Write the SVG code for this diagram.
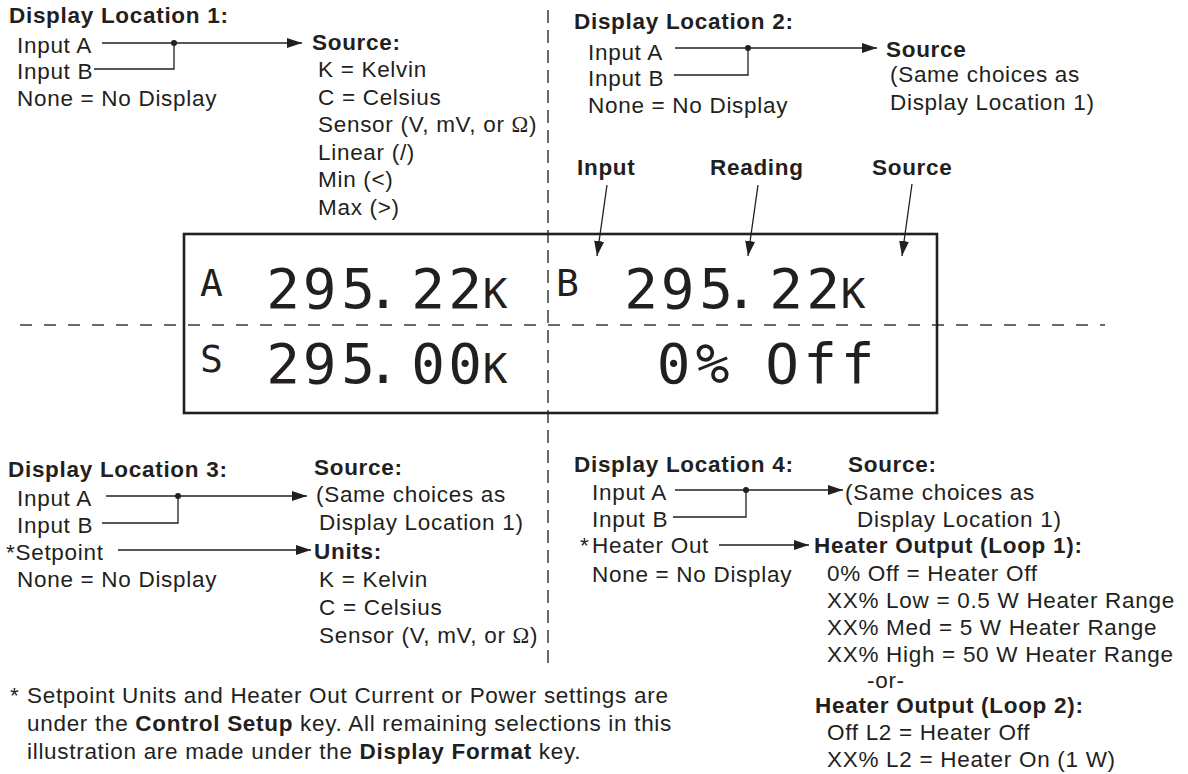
<svg xmlns="http://www.w3.org/2000/svg" width="1188" height="774" viewBox="0 0 1188 774">
<style>
text { font-family: "Liberation Sans", Arial, Helvetica, sans-serif; font-size: 22.5px; letter-spacing: 0.7px; fill: #231f20; }
.b { font-weight: bold; }
.lcd { font-family: "DejaVu Sans Mono", "Liberation Mono", monospace; letter-spacing: 0; text-anchor: middle; }
.big { font-size: 56px; }
.sm { font-size: 38px; }
.k { font-size: 41px; }
.om { font-family: "Liberation Serif", "Times New Roman", serif; }
.ln { fill: none; stroke: #231f20; stroke-width: 1.3; }
.arr { fill: none; stroke: #231f20; stroke-width: 1.3; marker-end: url(#ah); }
.dash { fill: none; stroke: #3a3a3a; stroke-width: 1.5; }
.dot { fill: #231f20; }
</style>
<defs>
<marker id="ah" markerUnits="userSpaceOnUse" markerWidth="16" markerHeight="10" refX="15" refY="5" orient="auto">
<path d="M0,0 L15,5 L0,10 Z" fill="#231f20"/>
</marker>
</defs>
<rect width="1188" height="774" fill="#ffffff"/>

<g id="guides">
<path class="dash" d="M548,10 V670" stroke-dasharray="13 7"/>
<path class="dash" d="M20,325 H1105" stroke-dasharray="12 12"/>
</g>

<g id="lcd">
<rect x="184" y="234" width="753" height="179" fill="none" stroke="#231f20" stroke-width="2.6"/>
<text class="lcd sm" x="211.5" y="296">A</text>
<text class="lcd big" x="283 319.5 358 383 428 465" y="308">295.22</text>
<text class="lcd k" x="495" y="308">K</text>
<text class="lcd sm" x="567.5" y="296">B</text>
<text class="lcd big" x="641 677.5 716 741 786 823" y="308">295.22</text>
<text class="lcd k" x="853" y="308">K</text>
<text class="lcd sm" x="211.5" y="372">S</text>
<text class="lcd big" x="283 319.5 358 383 428 465" y="383">295.00</text>
<text class="lcd k" x="495" y="383">K</text>
<text class="lcd big" x="673.5 712.5 747 782 820 857.5" y="383">0% Off</text>
</g>

<g id="loc1">
<text class="b" x="9" y="23">Display Location 1:</text>
<text x="17" y="53">Input A</text>
<text x="17" y="79">Input B</text>
<text x="17" y="106">None = No Display</text>
</g>
<g id="loc1-source">
<text class="b" x="312" y="50">Source:</text>
<text x="318" y="77">K = Kelvin</text>
<text x="318" y="105">C = Celsius</text>
<text x="318" y="132">Sensor (V, mV, or <tspan class="om">Ω</tspan>)</text>
<text x="318" y="160">Linear (/)</text>
<text x="318" y="187">Min (&lt;)</text>
<text x="318" y="215">Max (&gt;)</text>
</g>

<g id="loc2">
<text class="b" x="574" y="29">Display Location 2:</text>
<text x="588" y="60">Input A</text>
<text x="588" y="86">Input B</text>
<text x="588" y="113">None = No Display</text>
</g>
<g id="loc2-source">
<text class="b" x="886" y="57">Source</text>
<text x="890" y="82">(Same choices as</text>
<text x="890" y="110">Display Location 1)</text>
</g>

<g id="label-input"><text class="b" x="577" y="175">Input</text></g>
<g id="label-reading"><text class="b" x="710" y="175">Reading</text></g>
<g id="label-source"><text class="b" x="872" y="175">Source</text></g>

<g id="loc3">
<text class="b" x="8" y="477">Display Location 3:</text>
<text x="17" y="506">Input A</text>
<text x="17" y="533">Input B</text>
<text x="6" y="560">*Setpoint</text>
<text x="17" y="587">None = No Display</text>
</g>
<g id="loc3-source">
<text class="b" x="314" y="475">Source:</text>
<text x="316" y="502">(Same choices as</text>
<text x="319" y="530">Display Location 1)</text>
</g>
<g id="loc3-units">
<text class="b" x="314" y="559">Units:</text>
<text x="319" y="587">K = Kelvin</text>
<text x="319" y="615">C = Celsius</text>
<text x="319" y="643">Sensor (V, mV, or <tspan class="om">Ω</tspan>)</text>
</g>

<g id="loc4">
<text class="b" x="574" y="472">Display Location 4:</text>
<text x="592" y="500">Input A</text>
<text x="592" y="527">Input B</text>
<text x="580" y="553">*</text>
<text x="592" y="553">Heater Out</text>
<text x="592" y="582">None = No Display</text>
</g>
<g id="loc4-source">
<text class="b" x="848" y="472">Source:</text>
<text x="845" y="500">(Same choices as</text>
<text x="857" y="527">Display Location 1)</text>
</g>
<g id="loc4-heater">
<text class="b" x="814" y="553">Heater Output (Loop 1):</text>
<text x="827" y="581">0% Off = Heater Off</text>
<text x="827" y="608">XX% Low = 0.5 W Heater Range</text>
<text x="827" y="635">XX% Med = 5 W Heater Range</text>
<text x="827" y="662">XX% High = 50 W Heater Range</text>
<text x="867" y="688">-or-</text>
<text class="b" x="815" y="713">Heater Output (Loop 2):</text>
<text x="827" y="740">Off L2 = Heater Off</text>
<text x="827" y="767">XX% L2 = Heater On (1 W)</text>
</g>

<g id="note">
<text x="10" y="703">*</text>
<text x="27" y="703">Setpoint Units and Heater Out Current or Power settings are</text>
<text x="27" y="731">under the <tspan class="b">Control Setup</tspan> key. All remaining selections in this</text>
<text x="27" y="759">illustration are made under the <tspan class="b">Display Format</tspan> key.</text>
</g>

<g id="connectors">
<path class="arr" d="M102,43 H302"/>
<path class="ln" d="M94,69 H174 V43"/>
<circle class="dot" cx="174" cy="43" r="3"/>
<path class="arr" d="M675,48 H877"/>
<path class="ln" d="M674,75 H748 V48"/>
<circle class="dot" cx="748" cy="48" r="3"/>
<path class="arr" d="M607,185 L597,256"/>
<path class="arr" d="M758,185 L748,256"/>
<path class="arr" d="M912,184 L902,256"/>
<path class="arr" d="M106,496 H307"/>
<path class="ln" d="M102,523 H178 V496"/>
<circle class="dot" cx="178" cy="496" r="3"/>
<path class="arr" d="M118,550 H311"/>
<path class="arr" d="M675,490 H843"/>
<path class="ln" d="M673,517 H746 V490"/>
<circle class="dot" cx="746" cy="490" r="3"/>
<path class="arr" d="M719,545 H809"/>
</g>
</svg>
